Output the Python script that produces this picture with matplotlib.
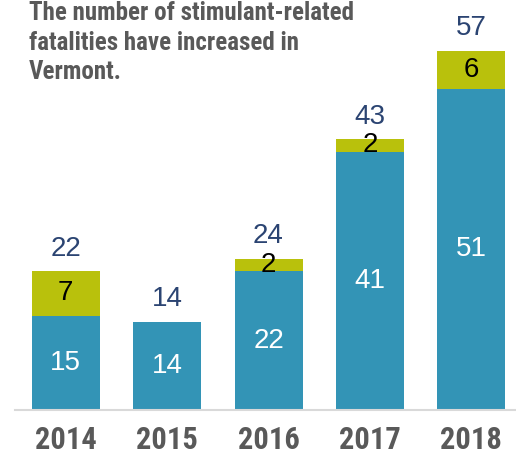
import numpy as np
import matplotlib.pyplot as plt

years = ["2014", "2015", "2016", "2017", "2018"]
base_vals = [15, 14, 22, 41, 51]
top_vals = [7, 0, 2, 2, 6]
totals = [22, 14, 24, 43, 57]

cond = ["Roboto Condensed", "Liberation Sans Narrow", "Roboto", "DejaVu Sans"]
plain = ["Liberation Sans", "DejaVu Sans"]

blue = "#3394b6"
olive = "#b9c10c"
navy = "#2b4472"
gray = "#595959"

fig = plt.figure(figsize=(5.16, 4.59), dpi=100)
ax = fig.add_axes([15 / 516, 49 / 459, 501 / 516, 378 / 459])

x = np.arange(len(years))
w = 0.67
ax.bar(x, base_vals, width=w, color=blue)
ax.bar(x, top_vals, width=w, bottom=base_vals, color=olive)

for i in range(len(years)):
    ax.text(x[i], base_vals[i] / 2, str(base_vals[i]), ha="center", va="center",
            color="white", fontsize=20, family=plain)
    if top_vals[i] > 0:
        ax.text(x[i], base_vals[i] + top_vals[i] / 2, str(top_vals[i]), ha="center",
                va="center", color="black", fontsize=20, family=plain)
    ax.text(x[i], totals[i] + 1.5, str(totals[i]), ha="center", va="bottom",
            color=navy, fontsize=20, family=plain)

ax.set_xlim(-0.5, 4.44)
ax.set_ylim(0, 60)
ax.set_yticks([])
ax.set_xticks(x)
ax.set_xticklabels(years, fontsize=22, fontweight="bold", color=gray, family=cond)
ax.tick_params(axis="x", length=0, pad=11)
for s in ["top", "right", "left"]:
    ax.spines[s].set_visible(False)
ax.spines["bottom"].set_color("#d9d9d9")
ax.spines["bottom"].set_linewidth(1.5)

fig.text(29 / 516, 1 - 1 / 459,
         "The number of stimulant-related\nfatalities have increased in\nVermont.",
         ha="left", va="top", fontsize=18, fontweight="bold", color=gray,
         family=cond, linespacing=1.3)

fig.savefig("out.png", dpi=100)
